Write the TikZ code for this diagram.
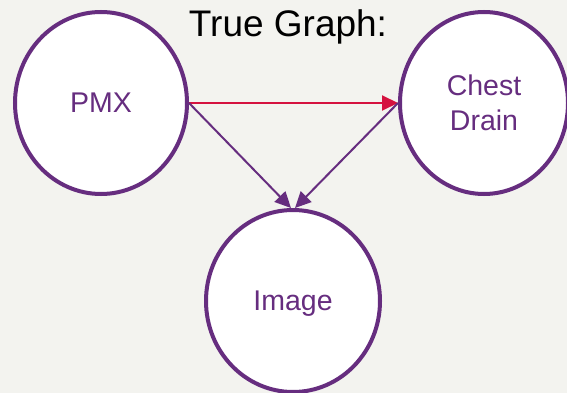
\documentclass[tikz,border=0pt]{standalone}
\usepackage{fontspec}
\setmainfont{Liberation Sans}
\usetikzlibrary{shapes.geometric,arrows.meta}
\definecolor{bg}{HTML}{F3F3EF}
\definecolor{nodepurple}{HTML}{662D7F}
\definecolor{edgered}{HTML}{D5123F}
\begin{document}
\begin{tikzpicture}[x=1pt,y=-1pt,
  var/.style={ellipse, draw=nodepurple, line width=4pt, fill=white,
    inner sep=0pt, outer sep=2pt, text=nodepurple, text depth=0pt,
    font=\fontsize{28.5}{35}\selectfont, align=center},
  edge/.style={line width=2pt, -{Triangle[length=16pt,width=15pt]}}]
  % canvas
  \fill[bg] (0,0) rectangle (567,393);
  \useasboundingbox (0,0) rectangle (567,393);

  % title
  \node[anchor=base, font=\fontsize{37}{44}\selectfont, inner sep=0pt]
    (title) at (288,36.5) {True Graph:};

  % variables
  \node[var, minimum width=172pt, minimum height=182pt] (pmx) at (101,103) {PMX};
  \node[var, minimum width=168pt, minimum height=182pt] (chest) at (484,103) {Chest\\Drain};
  \node[var, minimum width=174pt, minimum height=182pt] (img) at (293,301) {Image};

  % causal edges
  \draw[edge, draw=edgered, fill=edgered] (pmx.east) -- (chest.west);
  \draw[edge, draw=nodepurple, fill=nodepurple] (pmx.east) -- ([xshift=-2pt]img.north);
  \draw[edge, draw=nodepurple, fill=nodepurple] (chest.west) -- ([xshift=2pt]img.north);
\end{tikzpicture}
\end{document}
